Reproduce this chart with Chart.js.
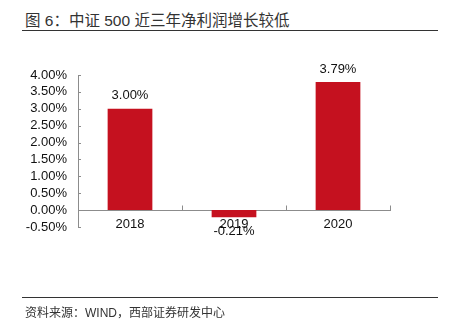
<!DOCTYPE html>
<html>
<head>
<meta charset="utf-8">
<script src="https://cdn.jsdelivr.net/npm/chart.js@4.4.0/dist/chart.umd.min.js"></script>
<style>
  body { margin: 0; background: #fff; }
  #wrap { position: relative; width: 449px; height: 330px; overflow: hidden; }
  #title { position: absolute; left: 25px; top: 8px; font-size: 15.5px; color: #333; white-space: nowrap;
           font-family: "Liberation Sans", Arial, "Noto Sans CJK SC", sans-serif; }
  .rule { position: absolute; left: 22px; width: 416px; height: 0; border-top: 1px solid #333; }
  #footer { position: absolute; left: 25px; top: 303px; font-size: 12px; color: #333; white-space: nowrap;
            font-family: "Liberation Sans", Arial, "Noto Sans CJK SC", sans-serif; }
  canvas { position: absolute; left: 0; top: 0; }
</style>
</head>
<body>
<div id="wrap">
  <div id="title">图 6：中证 500 近三年净利润增长较低</div>
  <div class="rule" style="top:30px"></div>
  <canvas id="profitChart" width="449" height="330"></canvas>
  <div class="rule" style="top:297px"></div>
  <div id="footer">资料来源：WIND，西部证券研发中心</div>
</div>
<script>
// net profit growth, %
var years = ['2018', '2019', '2020'];
var growth = [3.00, -0.21, 3.79];
var yTicks = [4.0, 3.5, 3.0, 2.5, 2.0, 1.5, 1.0, 0.5, 0.0, -0.5];

var barColor = '#C5111F';
var axisColor = '#8c8c8c';
var fontSpec = { family: '"Liberation Sans", Arial, sans-serif', size: 13 };

// inward tick marks and value labels
var extras = {
    id: 'extras',
    afterDatasetsDraw(chart) {
        var ctx = chart.ctx;
        var xs = chart.scales.x, ys = chart.scales.y;
        ctx.save();
        ctx.strokeStyle = axisColor;
        ctx.lineWidth = 1;
        ys.ticks.forEach(function (t) {
            var py = Math.round(ys.getPixelForValue(t.value)) + 0.5;
            ctx.beginPath();
            ctx.moveTo(xs.left, py);
            ctx.lineTo(xs.left + 3, py);
            ctx.stroke();
        });
        var zero = Math.round(ys.getPixelForValue(0)) + 0.5;
        for (var i = 1; i <= years.length; i++) {
            var px = Math.round(xs.getPixelForValue(i - 0.5)) + 0.5;
            ctx.beginPath();
            ctx.moveTo(px, zero);
            ctx.lineTo(px, zero - 5);
            ctx.stroke();
        }
        ctx.fillStyle = '#111';
        ctx.font = '13px "Liberation Sans", Arial, sans-serif';
        ctx.textAlign = 'center';
        ctx.textBaseline = 'middle';
        chart.getDatasetMeta(0).data.forEach(function (bar, i) {
            var v = growth[i];
            var ty = v >= 0 ? bar.y - 13 : bar.y + 14;
            ctx.fillText(v.toFixed(2) + '%', bar.x, ty);
        });
        ctx.restore();
    }
};

var ctx = document.getElementById('profitChart').getContext('2d');
var profitChart = new Chart(ctx, {
    type: 'bar',
    data: {
        labels: years,
        datasets: [{
            data: growth,
            backgroundColor: barColor,
            borderWidth: 0,
            barPercentage: 0.43,
            categoryPercentage: 1
        }]
    },
    options: {
        responsive: false,
        animation: false,
        layout: { padding: { left: 0, top: 75, right: 59, bottom: 103 } },
        plugins: { legend: { display: false }, tooltip: { enabled: false } },
        scales: {
            x: {
                position: { y: 0 },
                grid: { display: false, drawTicks: false },
                border: { display: true, color: axisColor },
                ticks: { color: '#111', font: fontSpec, padding: 7, maxRotation: 0 }
            },
            y: {
                min: -0.5,
                max: 4,
                afterFit: function (s) { s.width = 78; },
                afterBuildTicks: function (s) { s.ticks = yTicks.map(function (v) { return { value: v }; }); },
                grid: { display: false, drawTicks: false },
                border: { display: true, color: axisColor },
                ticks: {
                    color: '#111',
                    font: fontSpec,
                    padding: 11,
                    autoSkip: false,
                    callback: function (v) { return v.toFixed(2) + '%'; }
                }
            }
        }
    },
    plugins: [extras]
});
</script>
</body>
</html>
